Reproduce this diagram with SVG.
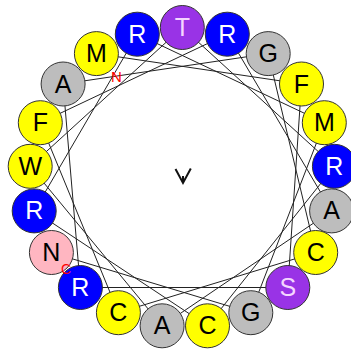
<svg xmlns="http://www.w3.org/2000/svg" width="351" height="351" viewBox="0 0 351 351">
<style>
.res circle{stroke:#333;stroke-width:1}
.res text{font-family:"Liberation Sans",Arial,sans-serif;font-size:25px;text-anchor:middle}
.hyd circle{fill:#ffff00}.hyd text{fill:#000}
.gly circle{fill:#bdbdbd}.gly text{fill:#000}
.bas circle{fill:#0000ff}.bas text{fill:#fff}
.pol circle{fill:#9933e6}.pol text{fill:#f4d6ff}
.ami circle{fill:#ffb6c1}.ami text{fill:#000}
#connectors line{stroke:#222;stroke-width:1}
.term{font-family:"Liberation Sans",Arial,sans-serif;font-size:15px;fill:#ff0000;text-anchor:middle}
</style>
<rect width="351" height="351" fill="#fff"/>
<g id="connectors">
<line x1="96.4" y1="53.6" x2="301.5" y2="84.0"/>
<line x1="301.5" y1="84.0" x2="287.8" y2="287.5"/>
<line x1="287.8" y1="287.5" x2="80.4" y2="287.5"/>
<line x1="80.4" y1="287.5" x2="63.1" y2="84.0"/>
<line x1="63.1" y1="84.0" x2="268.2" y2="53.6"/>
<line x1="268.2" y1="53.6" x2="315.7" y2="252.5"/>
<line x1="315.7" y1="252.5" x2="118.4" y2="312.7"/>
<line x1="118.4" y1="312.7" x2="40.3" y2="122.7"/>
<line x1="40.3" y1="122.7" x2="227.3" y2="34.2"/>
<line x1="227.3" y1="34.2" x2="331.6" y2="210.9"/>
<line x1="331.6" y1="210.9" x2="162.1" y2="325.8"/>
<line x1="162.1" y1="325.8" x2="30.2" y2="166.3"/>
<line x1="30.2" y1="166.3" x2="182.3" y2="27.5"/>
<line x1="182.3" y1="27.5" x2="334.4" y2="166.3"/>
<line x1="334.4" y1="166.3" x2="207.5" y2="325.8"/>
<line x1="207.5" y1="325.8" x2="34.2" y2="210.9"/>
<line x1="34.2" y1="210.9" x2="137.3" y2="34.2"/>
<line x1="137.3" y1="34.2" x2="324.3" y2="122.7"/>
<line x1="324.3" y1="122.7" x2="250.8" y2="312.7"/>
<line x1="250.8" y1="312.7" x2="51.4" y2="252.5"/>
</g>
<g id="moment">
<line x1="183" y1="176" x2="183" y2="183" stroke="#111" stroke-width="2"/>
<polyline points="175.5,169 183,183 190.8,168.5" fill="none" stroke="#111" stroke-width="2"/>
</g>
<g id="r0" class="res pol"><circle cx="182.3" cy="27.5" r="22"/><text x="182.3" y="36">T</text></g>
<g id="r1" class="res bas"><circle cx="227.3" cy="34.2" r="22"/><text x="227.3" y="42.7">R</text></g>
<g id="r2" class="res gly"><circle cx="268.2" cy="53.6" r="22"/><text x="268.2" y="62.1">G</text></g>
<g id="r3" class="res hyd"><circle cx="301.5" cy="84.0" r="22"/><text x="301.5" y="92.5">F</text></g>
<g id="r4" class="res hyd"><circle cx="324.3" cy="122.7" r="22"/><text x="324.3" y="131.2">M</text></g>
<g id="r5" class="res bas"><circle cx="334.4" cy="166.3" r="22"/><text x="334.4" y="174.8">R</text></g>
<g id="r6" class="res gly"><circle cx="331.6" cy="210.9" r="22"/><text x="331.6" y="219.4">A</text></g>
<g id="r7" class="res hyd"><circle cx="315.7" cy="252.5" r="22"/><text x="315.7" y="261">C</text></g>
<g id="r8" class="res pol"><circle cx="287.8" cy="287.5" r="22"/><text x="287.8" y="296">S</text></g>
<g id="r9" class="res gly"><circle cx="250.8" cy="312.7" r="22"/><text x="250.8" y="321.2">G</text></g>
<g id="r10" class="res hyd"><circle cx="207.5" cy="325.8" r="22"/><text x="207.5" y="334.3">C</text></g>
<g id="r11" class="res gly"><circle cx="162.1" cy="325.8" r="22"/><text x="162.1" y="334.3">A</text></g>
<g id="r12" class="res hyd"><circle cx="118.4" cy="312.7" r="22"/><text x="118.4" y="321.2">C</text></g>
<g id="r13" class="res bas"><circle cx="80.4" cy="287.5" r="22"/><text x="80.4" y="296">R</text></g>
<g id="r14" class="res ami"><circle cx="51.4" cy="252.5" r="22"/><text x="51.4" y="261">N</text></g>
<g id="r15" class="res bas"><circle cx="34.2" cy="210.9" r="22"/><text x="34.2" y="219.4">R</text></g>
<g id="r16" class="res hyd"><circle cx="30.2" cy="166.3" r="22"/><text x="30.2" y="174.8">W</text></g>
<g id="r17" class="res hyd"><circle cx="40.3" cy="122.7" r="22"/><text x="40.3" y="131.2">F</text></g>
<g id="r18" class="res gly"><circle cx="63.1" cy="84.0" r="22"/><text x="63.1" y="92.5">A</text></g>
<g id="r19" class="res hyd"><circle cx="96.4" cy="53.6" r="22"/><text x="96.4" y="62.1">M</text></g>
<g id="r20" class="res bas"><circle cx="137.3" cy="34.2" r="22"/><text x="137.3" y="42.7">R</text></g>
<text class="term" x="116.5" y="82">N</text>
<text class="term" x="66" y="274" style="font-size:14px">C</text>
</svg>
